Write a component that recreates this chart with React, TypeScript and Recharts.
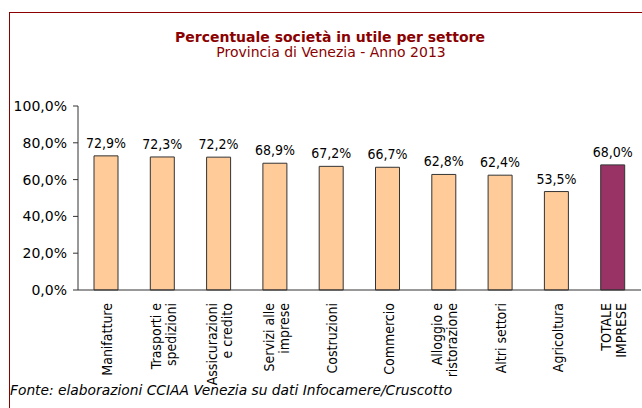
import React from "react";
import { BarChart, Bar, XAxis, YAxis, Cell, LabelList } from "recharts";

const categories = [
  "Manifatture",
  "Trasporti e\nspedizioni",
  "Assicurazioni\ne credito",
  "Servizi alle\nimprese",
  "Costruzioni",
  "Commercio",
  "Alloggio e\nristorazione",
  "Altri settori",
  "Agricoltura",
  "TOTALE\nIMPRESE",
];

const values = [72.9, 72.3, 72.2, 68.9, 67.2, 66.7, 62.8, 62.4, 53.5, 68.0];

const yTicks = [0, 20, 40, 60, 80, 100];
const edgeTicks = [0, 1, 2, 3, 4, 5, 6, 7, 8, 9, 10];

const SECTOR_COLOR = "#FFCC99";
const TOTAL_COLOR = "#993366";
const DARK_RED = "#8B0000";
const AXIS_COLOR = "#333333";
const FONT = "'DejaVu Sans', sans-serif";
const FONT_COND = "'DejaVu Sans Condensed', 'DejaVu Sans', sans-serif";

const data = categories.map((name, i) => ({ name, value: values[i] }));

const formatPct = (v: number) => `${Number(v).toFixed(1).replace(".", ",")}%`;

const CategoryTick = (props: any) => {
  const { x, y, payload } = props;
  const lines = String(payload.value).split("\n");
  return (
    <text
      transform={`translate(${x},${y}) rotate(-90)`}
      textAnchor="end"
      fontFamily={FONT_COND}
      fontSize={14}
      fill="#000"
    >
      {lines.map((line, i) => (
        <tspan key={i} x={0} y={6 + (i - (lines.length - 1) / 2) * 15}>
          {line}
        </tspan>
      ))}
    </text>
  );
};

export default function App() {
  return (
    <div
      style={{
        position: "relative",
        width: 642,
        height: 408,
        overflow: "hidden",
        background: "#fff",
      }}
    >
      <style>{"body{margin:0}"}</style>
      <div
        style={{
          position: "absolute",
          left: 9,
          top: 12,
          width: 700,
          height: 500,
          border: `1px solid ${DARK_RED}`,
        }}
      />
      <BarChart
        width={642}
        height={408}
        data={data}
        margin={{ top: 106, right: 1, left: 0, bottom: 0 }}
      >
        <XAxis
          xAxisId="edge"
          type="number"
          domain={[0, 10]}
          ticks={edgeTicks}
          tick={false}
          axisLine={false}
          tickLine={{ stroke: AXIS_COLOR }}
          tickSize={5}
          height={0}
        />
        <XAxis
          dataKey="name"
          interval={0}
          height={118}
          tickLine={false}
          tickMargin={7}
          axisLine={{ stroke: AXIS_COLOR }}
          tick={<CategoryTick />}
        />
        <YAxis
          domain={[0, 100]}
          ticks={yTicks}
          interval={0}
          width={78}
          tickSize={5}
          tickMargin={6}
          tickFormatter={formatPct}
          axisLine={{ stroke: AXIS_COLOR }}
          tickLine={{ stroke: AXIS_COLOR }}
          tick={{ fill: "#000", fontSize: 14, fontFamily: FONT }}
        />
        <Bar
          dataKey="value"
          barSize={24}
          stroke="#333"
          strokeWidth={1}
          isAnimationActive={false}
        >
          {data.map((d, i) => (
            <Cell
              key={d.name}
              fill={i === data.length - 1 ? TOTAL_COLOR : SECTOR_COLOR}
            />
          ))}
          <LabelList
            dataKey="value"
            position="top"
            offset={8}
            formatter={(v: any) => formatPct(v)}
            fill="#000"
            fontSize={14}
            fontFamily={FONT_COND}
          />
        </Bar>
      </BarChart>
      <svg
        width={642}
        height={408}
        style={{ position: "absolute", left: 0, top: 0, pointerEvents: "none" }}
      >
        <text
          x={330}
          y={42}
          textAnchor="middle"
          fontFamily={FONT}
          fontWeight="bold"
          fontSize={14}
          fill={DARK_RED}
        >
          Percentuale società in utile per settore
        </text>
        <text
          x={331}
          y={57}
          textAnchor="middle"
          fontFamily={FONT}
          fontSize={14}
          fill={DARK_RED}
        >
          Provincia di Venezia - Anno 2013
        </text>
        <text
          x={10}
          y={395}
          fontFamily={FONT}
          fontStyle="italic"
          fontSize={13.8}
          fill="#000"
        >
          Fonte: elaborazioni CCIAA Venezia su dati Infocamere/Cruscotto
        </text>
      </svg>
    </div>
  );
}
